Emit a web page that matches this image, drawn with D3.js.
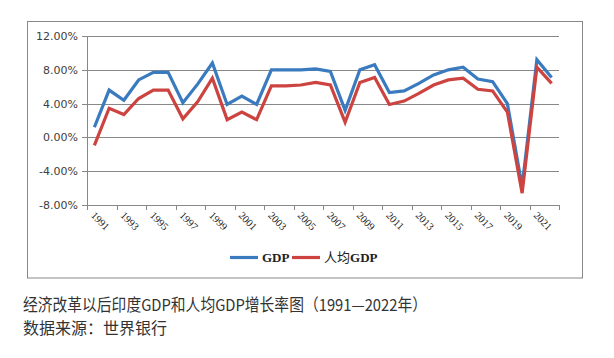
<!DOCTYPE html>
<html>
<head>
<meta charset="utf-8">
<script src="https://cdn.jsdelivr.net/npm/d3@7"></script>
<style>
  body { margin: 0; background: #fff; }
  svg { display: block; }
</style>
</head>
<body>
<div id="chart"></div>
<script>
// data (growth rate, %)
const years = [
  "1991", "1992", "1993", "1994", "1995", "1996", "1997", "1998",
  "1999", "2000", "2001", "2002", "2003", "2004", "2005", "2006",
  "2007", "2008", "2009", "2010", "2011", "2012", "2013", "2014",
  "2015", "2016", "2017", "2018", "2019", "2020", "2021", "2022"
];
const gdp = [
  1.2, 5.6, 4.4, 6.8, 7.7, 7.7, 4.1, 6.3,
  8.8, 3.9, 4.9, 3.9, 8.0, 8.0, 8.0, 8.1,
  7.8, 3.2, 8.0, 8.6, 5.3, 5.5, 6.4, 7.4,
  8.0, 8.3, 6.9, 6.6, 4.0, -5.8, 9.2, 7.1
];
const perCapita = [
  -0.95, 3.45, 2.7, 4.6, 5.6, 5.6, 2.2, 4.2,
  7.0, 2.1, 3.0, 2.1, 6.1, 6.1, 6.2, 6.5,
  6.2, 1.8, 6.5, 7.1, 3.9, 4.3, 5.2, 6.2,
  6.8, 7.0, 5.7, 5.5, 3.0, -6.6, 8.3, 6.4
];
const yTicks = [-8, -4, 0, 4, 8, 12];
// legend names split into [cjk part, latin part]
const seriesNames = [["", "GDP"], ["人均", "GDP"]];
const titleLines = [
  "经济改革以后印度GDP和人均GDP增长率图（1991—2022年）",
  "数据来源：世界银行"
];

const width = 614, height = 358;
const colors = ["#3a7abe", "#cc4340"];
const gridColor = "#888888";

const svg = d3.select("#chart")
  .append("svg")
  .attr("width", width)
  .attr("height", height);

// outer chart frame
svg.append("rect")
  .attr("x", 27.5).attr("y", 21.5)
  .attr("width", 555).attr("height", 256.5)
  .attr("fill", "none")
  .attr("stroke", gridColor)
  .attr("stroke-width", 1);

const x = d3.scaleBand()
  .domain(years)
  .range([87, 559])
  .padding(0);

const y = d3.scaleLinear()
  .domain([-8, 12])
  .range([205, 36]);

const cx = d => x(d) + x.bandwidth() / 2;

// gridlines + y ticks
const grid = svg.append("g");
grid.selectAll("line.grid")
  .data(yTicks)
  .enter()
  .append("line")
  .attr("class", "grid")
  .attr("x1", 82)
  .attr("x2", 559)
  .attr("y1", d => Math.round(y(d)) + 0.5)
  .attr("y2", d => Math.round(y(d)) + 0.5)
  .attr("stroke", gridColor)
  .attr("stroke-width", 1);

grid.selectAll("text")
  .data(yTicks)
  .enter()
  .append("text")
  .attr("x", 78)
  .attr("y", d => Math.round(y(d)) + 4)
  .attr("text-anchor", "end")
  .style("font-family", "DejaVu Sans, sans-serif")
  .style("font-size", "11px")
  .style("fill", "#404040")
  .text(d => d.toFixed(2) + "%");

// y axis line
svg.append("line")
  .attr("x1", 87.5).attr("x2", 87.5)
  .attr("y1", y(12)).attr("y2", y(-8))
  .attr("stroke", gridColor);

// x ticks every two categories
const xTickPos = years.filter((d, i) => i % 2 === 0).map(d => x(d));
xTickPos.push(x.range()[1]);
svg.append("g")
  .selectAll("line")
  .data(xTickPos)
  .enter()
  .append("line")
  .attr("x1", d => Math.round(d) + 0.5)
  .attr("x2", d => Math.round(d) + 0.5)
  .attr("y1", y(-8))
  .attr("y2", y(-8) + 5)
  .attr("stroke", gridColor);

// x labels, rotated
svg.append("g")
  .selectAll("text")
  .data(years.filter((d, i) => i % 2 === 0))
  .enter()
  .append("text")
  .attr("transform", d => `translate(${cx(d) - 4}, 216) rotate(45)`)
  .attr("text-anchor", "start")
  .style("font-family", "Liberation Serif, serif")
  .style("font-size", "10.5px")
  .style("fill", "#222")
  .text(d => d);

// lines
const line = d3.line()
  .x((d, i) => cx(years[i]))
  .y(d => y(d));

[gdp, perCapita].forEach((series, k) => {
  svg.append("path")
    .datum(series)
    .attr("d", line)
    .attr("fill", "none")
    .attr("stroke", colors[k])
    .attr("stroke-width", 3.2)
    .attr("stroke-linejoin", "miter")
    .attr("stroke-linecap", "butt");
});

// legend
const legend = svg.append("g");
const legendX = [230, 292];
seriesNames.forEach((name, k) => {
  legend.append("line")
    .attr("x1", legendX[k]).attr("x2", legendX[k] + 28)
    .attr("y1", 257.5).attr("y2", 257.5)
    .attr("stroke", colors[k])
    .attr("stroke-width", 3.2);
  const t = legend.append("text")
    .attr("x", legendX[k] + 32)
    .attr("y", 262)
    .style("font-size", "13px")
    .style("fill", "#222");
  if (name[0]) {
    t.append("tspan")
      .style("font-family", "Noto Sans CJK SC, sans-serif")
      .style("font-weight", "normal")
      .text(name[0]);
  }
  t.append("tspan")
    .style("font-family", "Liberation Serif, serif")
    .style("font-weight", "bold")
    .text(name[1]);
});

// caption below the chart
svg.append("text")
  .attr("x", 23)
  .attr("y", 311)
  .attr("textLength", 404)
  .attr("lengthAdjust", "spacingAndGlyphs")
  .style("font-family", "Noto Sans CJK SC, sans-serif")
  .style("font-size", "16.5px")
  .style("fill", "#333")
  .text(titleLines[0]);

svg.append("text")
  .attr("x", 23)
  .attr("y", 334)
  .style("font-family", "Noto Sans CJK SC, sans-serif")
  .style("font-size", "16px")
  .style("fill", "#333")
  .text(titleLines[1]);
</script>
</body>
</html>
